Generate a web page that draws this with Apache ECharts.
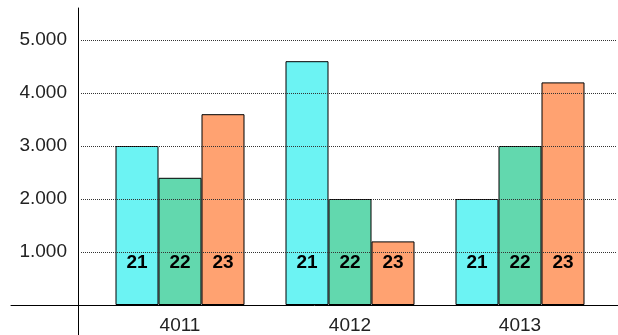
<!DOCTYPE html>
<html>
<head>
<meta charset="utf-8">
<script src="https://cdn.jsdelivr.net/npm/echarts@6/dist/echarts.min.js"></script>
<style>
html,body{margin:0;padding:0;background:#fff;}
#c{width:618px;height:335px;}
</style>
</head>
<body>
<div id="c"></div>
<script>
var categories = ['4011', '4012', '4013'];
var seriesNames = ['21', '22', '23'];
var s21 = [3000, 4600, 2000];
var s22 = [2400, 2000, 3000];
var s23 = [3600, 1200, 4200];
var yTicks = [0, 1000, 2000, 3000, 4000, 5000];

var colors = ['#6cf3f3', '#62d8ae', '#ffa271'];
var font = '"Liberation Sans", Arial, sans-serif';

function fmt(v) {
  if (v === 0) return '';
  var s = String(v);
  return s.replace(/\B(?=(\d{3})+(?!\d))/g, '.');
}

var chart = echarts.init(document.getElementById('c'), null, {renderer: 'canvas'});

function barSeries(name, data, color) {
  return {
    type: 'bar',
    name: name,
    data: data,
    xAxisIndex: 0,
    yAxisIndex: 0,
    barWidth: 43,
    barGap: '0%',
    z: 2,
    itemStyle: {color: color, borderColor: '#000', borderWidth: 1},
    label: {
      show: true,
      formatter: '{a}',
      position: 'insideBottom',
      distance: 33,
      color: '#000',
      fontSize: 19,
      fontWeight: 'bold',
      fontFamily: font
    }
  };
}

chart.setOption({
  animation: false,
  backgroundColor: '#fff',
  grid: [
    {left: 95, right: 13, top: 40, bottom: 30},
    {left: 11, right: 0, top: 40, bottom: 30},
    {left: 81, right: 1, top: 40, bottom: 30},
    {left: 78, width: 10, top: 8, bottom: 0}
  ],
  xAxis: [
    {
      gridIndex: 0, type: 'category', data: categories,
      axisLine: {show: false}, axisTick: {show: false},
      axisLabel: {color: '#222', fontSize: 19, fontFamily: font, margin: 11},
      splitLine: {show: false}
    },
    {
      gridIndex: 1, type: 'value', min: 0, max: 1, z: 5,
      axisLine: {show: true, lineStyle: {color: '#000', width: 1}},
      axisTick: {show: false}, axisLabel: {show: false}, splitLine: {show: false}
    },
    {gridIndex: 2, type: 'value', min: 0, max: 1, show: false},
    {gridIndex: 3, type: 'value', min: 0, max: 1, show: false}
  ],
  yAxis: [
    {
      gridIndex: 0, type: 'value', min: yTicks[0], max: yTicks[yTicks.length - 1], interval: 1000,
      axisLine: {show: false}, axisTick: {show: false}, splitLine: {show: false},
      axisLabel: {color: '#222', fontSize: 19, fontFamily: font, margin: 28, formatter: fmt}
    },
    {gridIndex: 1, type: 'value', min: 0, max: 1, show: false},
    {
      gridIndex: 2, type: 'value', min: yTicks[0], max: yTicks[yTicks.length - 1], interval: 1000, z: 3,
      axisLine: {show: false}, axisTick: {show: false}, axisLabel: {show: false},
      splitLine: {show: true, lineStyle: {color: '#333', width: 1, type: 'dotted'}}
    },
    {
      gridIndex: 3, type: 'value', min: 0, max: 1, z: 5,
      axisLine: {show: true, lineStyle: {color: '#000', width: 1}},
      axisTick: {show: false}, axisLabel: {show: false}, splitLine: {show: false}
    }
  ],
  series: [
    barSeries(seriesNames[0], s21, colors[0]),
    barSeries(seriesNames[1], s22, colors[1]),
    barSeries(seriesNames[2], s23, colors[2])
  ]
});
</script>
</body>
</html>
